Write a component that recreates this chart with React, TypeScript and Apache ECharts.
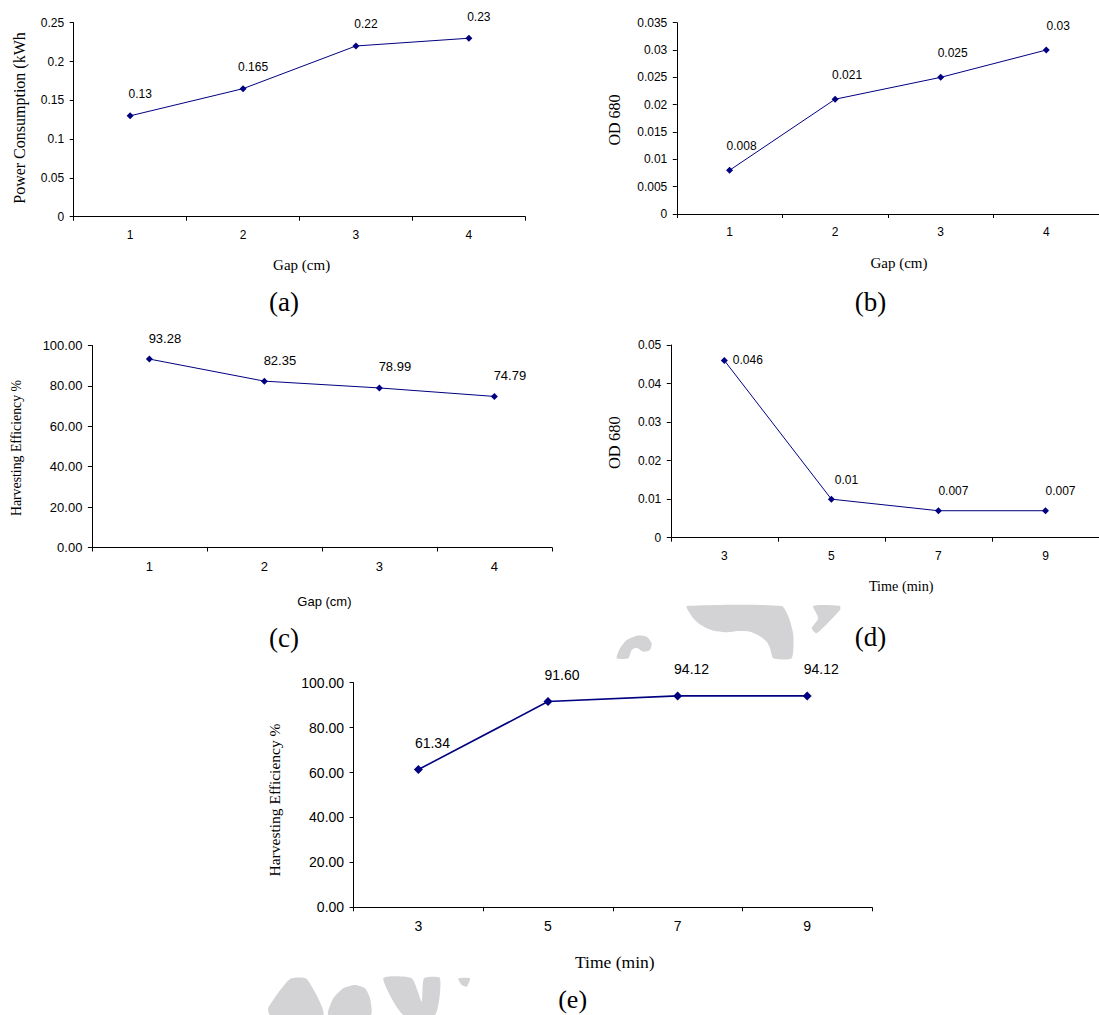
import React, { useEffect, useRef } from "react";
import * as echarts from "echarts";

// ---- data ----
const gapCategories = ["1", "2", "3", "4"];
const timeCategories = ["3", "5", "7", "9"];
const powerValues = [0.13, 0.165, 0.22, 0.23];
const odGapValues = [0.008, 0.021, 0.025, 0.03];
const effGapValues = [93.28, 82.35, 78.99, 74.79];
const odTimeValues = [0.046, 0.01, 0.007, 0.007];
const effTimeValues = [61.34, 91.6, 94.12, 94.12];

const SANS = "Liberation Sans";
const SERIF = "Liberation Serif";
const NAVY = "#000080";
const WM = "#d3d3d6";

type Panel = {
  letter: string;
  cats: string[];
  values: number[];
  yMax: number;
  yInterval: number;
  yDecimals: number | null;
  labelDecimals: number | null;
  grid: { left: number; top: number; width: number; height: number };
  fs: number;
  symbolSize: number;
  lineWidth: number;
  labelDistance: number;
  labelDx: number;
  firstLabelRight?: boolean;
  xTitle: { text: string; x: number; y: number; font: string };
  yTitle: { text: string; x: number; y: number; font: string };
  letterPos: [number, number];
  letterSize: number;
};

const panels: Panel[] = [
  {
    letter: "(a)", cats: gapCategories, values: powerValues, yMax: 0.25, yInterval: 0.05,
    yDecimals: null, labelDecimals: null,
    grid: { left: 73.7, top: 22.7, width: 451.6, height: 194 },
    fs: 12, symbolSize: 7, lineWidth: 1, labelDistance: 12, labelDx: 10,
    xTitle: { text: "Gap (cm)", x: 301.6, y: 265, font: `15px "${SERIF}"` },
    yTitle: { text: "Power Consumption (kWh", x: 19.3, y: 118, font: `16px "${SERIF}"` },
    letterPos: [284.1, 302], letterSize: 27,
  },
  {
    letter: "(b)", cats: gapCategories, values: odGapValues, yMax: 0.035, yInterval: 0.005,
    yDecimals: null, labelDecimals: null,
    grid: { left: 676.8, top: 22.7, width: 442, height: 191.3 },
    fs: 12, symbolSize: 7, lineWidth: 1, labelDistance: 15, labelDx: 12,
    xTitle: { text: "Gap (cm)", x: 899, y: 263, font: `15px "${SERIF}"` },
    yTitle: { text: "OD 680", x: 614.8, y: 120, font: `16px "${SERIF}"` },
    letterPos: [870.4, 302], letterSize: 27,
  },
  {
    letter: "(c)", cats: gapCategories, values: effGapValues, yMax: 100, yInterval: 20,
    yDecimals: 2, labelDecimals: 2,
    grid: { left: 91.9, top: 345.5, width: 460, height: 202 },
    fs: 13, symbolSize: 7, lineWidth: 1, labelDistance: 11, labelDx: 15.5,
    xTitle: { text: "Gap (cm)", x: 324.4, y: 601, font: `13px "${SANS}"` },
    yTitle: { text: "Harvesting Efficiency %", x: 16.8, y: 448, font: `13.8px "${SERIF}"` },
    letterPos: [284.1, 638], letterSize: 27,
  },
  {
    letter: "(d)", cats: timeCategories, values: odTimeValues, yMax: 0.05, yInterval: 0.01,
    yDecimals: null, labelDecimals: null,
    grid: { left: 670.8, top: 345, width: 458, height: 192.7 },
    fs: 12, symbolSize: 7, lineWidth: 1, labelDistance: 10, labelDx: 15,
    firstLabelRight: true,
    xTitle: { text: "Time (min)", x: 901.2, y: 585.7, font: `14.2px "${SERIF}"` },
    yTitle: { text: "OD 680", x: 614.8, y: 442.7, font: `16.5px "${SERIF}"` },
    letterPos: [870.4, 636.7], letterSize: 27,
  },
  {
    letter: "(e)", cats: timeCategories, values: effTimeValues, yMax: 100, yInterval: 20,
    yDecimals: 2, labelDecimals: 2,
    grid: { left: 353.6, top: 682.7, width: 518.4, height: 224.6 },
    fs: 14, symbolSize: 9, lineWidth: 1.6, labelDistance: 15, labelDx: 14,
    xTitle: { text: "Time (min)", x: 614.8, y: 961.7, font: `17.5px "${SERIF}"` },
    yTitle: { text: "Harvesting Efficiency %", x: 274, y: 800, font: `15.5px "${SERIF}"` },
    letterPos: [572.6, 999], letterSize: 26,
  },
];

// watermark fragments (background decoration)
const watermarkShapes: number[][][] = [
  [[686.7, 606], [781.7, 606], [789, 618], [793.3, 635], [791.7, 658.3], [773.3, 658.3], [770, 648], [766.7, 641.7], [758, 635], [750, 631.7], [738, 631], [726.7, 632.3], [715, 631], [706.7, 628.3], [698, 623], [693.3, 618.3], [689, 612]],
  [[813.3, 606], [840, 606], [840, 610], [816.7, 633.3], [811.7, 628.3], [818.3, 618.3]],
  [[616.7, 658.3], [620, 648.3], [626.7, 640], [636.7, 635.7], [646.7, 636.7], [651.7, 643.3], [650, 650], [643.3, 651.7], [636.7, 647.7], [631.7, 650], [628.3, 658.3]],
  [[270, 1015], [268.3, 1007.7], [290, 979], [306.7, 979], [323.3, 1015]],
  [[328.3, 1015], [333.3, 998.3], [343.3, 988.3], [355, 985], [365, 988.3], [370, 998.3], [370.7, 1015]],
  [[383.3, 978.3], [411.7, 978.3], [421.7, 1001.7], [424, 978.3], [440, 978.3], [435, 1015], [403.3, 1015]],
  [[458.3, 978.3], [470, 978.3], [466.7, 986.7], [461.7, 985]],
];

function buildOption() {
  const grid = panels.map((p) => ({ ...p.grid, containLabel: false }));
  const xAxis = panels.map((p, i) => ({
    type: "category",
    gridIndex: i,
    data: p.cats,
    boundaryGap: true,
    axisLine: { show: true, onZero: false, lineStyle: { color: "#000", width: 1 } },
    axisTick: { show: true, length: 4, alignWithLabel: false, lineStyle: { color: "#000", width: 1 } },
    axisLabel: { color: "#000", fontSize: p.fs, fontFamily: SANS, margin: 12 },
    splitLine: { show: false },
  }));
  const yAxis = panels.map((p, i) => ({
    type: "value",
    gridIndex: i,
    min: 0,
    max: p.yMax,
    interval: p.yInterval,
    axisLine: { show: true, lineStyle: { color: "#000", width: 1 } },
    axisTick: { show: true, length: 4, lineStyle: { color: "#000", width: 1 } },
    axisLabel: {
      color: "#000",
      fontSize: p.fs,
      fontFamily: SANS,
      margin: 9.5,
      formatter: (v: number) =>
        p.yDecimals !== null ? v.toFixed(p.yDecimals) : String(parseFloat(v.toFixed(6))),
    },
    splitLine: { show: false },
  }));
  const series = panels.map((p, i) => ({
    type: "line",
    xAxisIndex: i,
    yAxisIndex: i,
    symbol: "diamond",
    symbolSize: p.symbolSize,
    lineStyle: { color: NAVY, width: p.lineWidth },
    itemStyle: { color: NAVY },
    label: {
      show: true,
      position: "top",
      distance: p.labelDistance,
      offset: [p.labelDx, 0],
      color: "#000",
      fontSize: p.fs,
      fontFamily: SANS,
      formatter: (d: any) =>
        p.labelDecimals !== null ? Number(d.value).toFixed(p.labelDecimals) : String(d.value),
    },
    data: p.values.map((v, k) =>
      p.firstLabelRight && k === 0
        ? { value: v, label: { position: "right", distance: 5, offset: [0, 0] } }
        : v
    ),
  }));

  const graphic: any[] = [];
  watermarkShapes.forEach((pts) => {
    graphic.push({ type: "polygon", z: 0, shape: { points: pts, smooth: 0.2 }, style: { fill: WM } });
  });
  panels.forEach((p) => {
    graphic.push({
      type: "text", x: p.xTitle.x, y: p.xTitle.y, z: 10,
      style: { text: p.xTitle.text, font: p.xTitle.font, fill: "#000", align: "center", verticalAlign: "middle", textAlign: "center", textVerticalAlign: "middle" },
    });
    graphic.push({
      type: "text", x: p.yTitle.x, y: p.yTitle.y, rotation: Math.PI / 2, z: 10,
      style: { text: p.yTitle.text, font: p.yTitle.font, fill: "#000", align: "center", verticalAlign: "middle", textAlign: "center", textVerticalAlign: "middle" },
    });
    graphic.push({
      type: "text", x: p.letterPos[0], y: p.letterPos[1], z: 10,
      style: { text: p.letter, font: `${p.letterSize}px "${SERIF}"`, fill: "#000", align: "center", verticalAlign: "middle", textAlign: "center", textVerticalAlign: "middle" },
    });
  });

  return {
    animation: false,
    backgroundColor: "#ffffff",
    grid,
    xAxis,
    yAxis,
    series,
    graphic,
  };
}

export default function App() {
  const ref = useRef<HTMLDivElement>(null);
  useEffect(() => {
    if (!ref.current) return;
    const chart = echarts.init(ref.current, null, { renderer: "svg", width: 1099, height: 1015 });
    chart.setOption(buildOption() as any);
    return () => chart.dispose();
  }, []);
  return (
    <div
      ref={ref}
      style={{ position: "absolute", left: 0, top: 0, width: 1099, height: 1015, background: "#fff" }}
    />
  );
}
